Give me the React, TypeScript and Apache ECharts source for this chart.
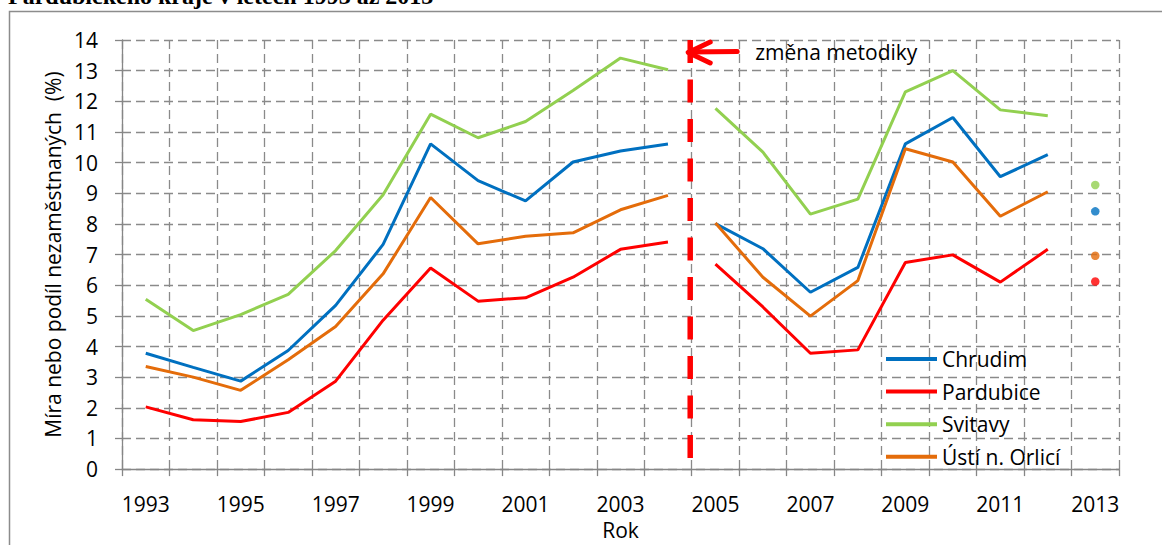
import React, { useEffect, useRef } from "react";
import * as echarts from "echarts";

const years = ["1993", "1994", "1995", "1996", "1997", "1998", "1999", "2000", "2001", "2002", "2003", "2004", "2005", "2006", "2007", "2008", "2009", "2010", "2011", "2012", "2013"];
const chrudim = [3.78, 3.32, 2.87, 3.87, 5.34, 7.33, 10.61, 9.41, 8.75, 10.02, 10.38, 10.61, 8.01, 7.19, 5.77, 6.58, 10.61, 11.47, 9.54, 10.26, 8.41];
const pardubice = [2.03, 1.61, 1.55, 1.85, 2.87, 4.86, 6.56, 5.48, 5.59, 6.26, 7.17, 7.41, 6.69, 5.29, 3.78, 3.89, 6.74, 6.99, 6.1, 7.17, 6.12];
const svitavy = [5.54, 4.52, 5.04, 5.7, 7.13, 8.95, 11.58, 10.81, 11.34, 12.35, 13.41, 13.03, 11.77, 10.34, 8.32, 8.81, 12.31, 13.0, 11.72, 11.53, 9.27];
const usti = [3.35, 3.0, 2.57, 3.57, 4.65, 6.37, 8.86, 7.35, 7.6, 7.71, 8.46, 8.93, 8.03, 6.26, 4.99, 6.15, 10.45, 10.02, 8.25, 9.05, 6.96];

const names = ["Chrudim", "Pardubice", "Svitavy", "Ústí n. Orlicí"];
const colors = ["#0070C0", "#FF0000", "#92D050", "#E46C0A"];
const allValues = [chrudim, pardubice, svitavy, usti];

// segment boundaries: old methodology 1993-2004, new 2005-2012, single point 2013
const seg1End = years.indexOf("2004");
const seg2Start = years.indexOf("2005");
const seg2End = years.indexOf("2012");
const dotIdx = years.indexOf("2013");

const titleText = "Pardubického kraje v letech 1993 až 2013";
const yTitle = "Míra nebo podíl nezaměstnaných  (%)";
const xTitle = "Rok";
const noteText = "změna metodiky";

const FONT = "'Open Sans', 'Noto Sans', sans-serif";
const FS = 21;
const GRID_COLOR = "#8a8a8a";

function mask(vals: number[], from: number, to: number) {
  return vals.map((v, i) => (i >= from && i <= to ? v : null));
}

export default function App() {
  const ref = useRef<HTMLDivElement>(null);
  useEffect(() => {
    document.body.style.margin = "0";
    const chart = echarts.init(ref.current!, undefined, { renderer: "svg" });
    const series: any[] = [];
    names.forEach((n, k) => {
      const common = {
        type: "line",
        name: n,
        symbol: "none",
        showSymbol: false,
        connectNulls: false,
        lineStyle: { color: colors[k], width: 3 },
        itemStyle: { color: colors[k] },
        z: 3,
      };
      series.push({ ...common, data: mask(allValues[k], 0, seg1End) });
      series.push({ ...common, data: mask(allValues[k], seg2Start, seg2End) });
    });
    names.forEach((n, k) => {
      series.push({
        type: "scatter",
        name: n + " 2013",
        data: mask(allValues[k], dotIdx, dotIdx),
        symbol: "circle",
        symbolSize: 8.5,
        itemStyle: { color: colors[k] },
        z: 3,
      });
    });

    const option: any = {
      animation: false,
      textStyle: { fontFamily: FONT },
      grid: { left: 122, top: 40, width: 997, height: 434, containLabel: false },
      legend: {
        data: names,
        orient: "vertical",
        left: 886,
        top: 348,
        padding: 0,
        icon: "rect",
        itemWidth: 51,
        itemHeight: 4,
        itemGap: 10.6,
        textStyle: { fontFamily: FONT, fontSize: FS, color: "#000", lineHeight: 22 },
      },
      xAxis: {
        type: "category",
        data: years,
        boundaryGap: true,
        name: xTitle,
        nameLocation: "middle",
        nameGap: 48,
        nameTextStyle: { fontFamily: FONT, fontSize: FS, color: "#000" },
        axisLine: { lineStyle: { color: "#868686", width: 1.3 } },
        axisTick: { show: true, interval: 0, length: 7, lineStyle: { color: "#868686", width: 1.3 } },
        axisLabel: { interval: 1, margin: 24, fontFamily: FONT, fontSize: FS, color: "#000" },
        splitLine: { show: true, interval: 0, lineStyle: { color: GRID_COLOR, width: 1.3, type: [9, 5] } },
      },
      yAxis: {
        type: "value",
        min: 0,
        max: 14,
        interval: 1,
        axisLine: { show: true, lineStyle: { color: "#868686", width: 1.3 } },
        axisTick: { show: true, length: 7, lineStyle: { color: "#868686", width: 1.3 } },
        axisLabel: { margin: 24, fontFamily: FONT, fontSize: FS, color: "#000" },
        splitLine: { show: true, lineStyle: { color: GRID_COLOR, width: 1.3, type: [9, 5] } },
      },
      series,
    };
    chart.setOption(option);

    const xa = chart.convertToPixel({ xAxisIndex: 0 }, "2004") as number;
    const xb2 = chart.convertToPixel({ xAxisIndex: 0 }, "2005") as number;
    const xb = (xa + xb2) / 2 - 1.5;
    const yTop = chart.convertToPixel({ yAxisIndex: 0 }, 14) as number;
    const yBot = chart.convertToPixel({ yAxisIndex: 0 }, 0) as number;
    const arrowY = 52;

    chart.setOption({
      graphic: [
        {
          type: "rect",
          shape: { x: 9.5, y: 11.5, width: 1200, height: 600 },
          style: { fill: "none", stroke: "#8c8c8c", lineWidth: 1.5 },
          silent: true,
          z: 0,
        },
        {
          type: "text",
          x: 8,
          y: -4,
          style: {
            text: titleText,
            font: "bold 24px 'Liberation Serif', 'Times New Roman', serif",
            fill: "#000",
            align: "left",
            verticalAlign: "middle",
          },
          z: 10,
        },
        {
          type: "line",
          shape: { x1: xb, y1: yTop, x2: xb, y2: yBot + 1 },
          style: { stroke: "#FF0000", lineWidth: 5.5, lineDash: [23, 16.5] },
          z: 5,
        },
        {
          type: "line",
          shape: { x1: xb - 1, y1: arrowY, x2: xb + 47, y2: arrowY - 0.5 },
          style: { stroke: "#FF0000", lineWidth: 5, lineCap: "round" },
          z: 6,
        },
        {
          type: "polyline",
          shape: { points: [[xb + 20, arrowY - 10], [xb - 2, arrowY + 0.5], [xb + 20, arrowY + 11]] },
          style: { stroke: "#FF0000", lineWidth: 5, lineCap: "round", lineJoin: "round", fill: "none" },
          z: 6,
        },
        {
          type: "text",
          x: xb + 65,
          y: arrowY,
          style: {
            text: noteText,
            font: `${FS}px ${FONT}`,
            fill: "#000",
            align: "left",
            verticalAlign: "middle",
          },
          z: 6,
        },
        {
          type: "text",
          x: 53,
          y: (yTop + yBot) / 2,
          rotation: Math.PI / 2,
          style: {
            text: yTitle,
            font: `${FS}px ${FONT}`,
            fill: "#000",
            align: "center",
            verticalAlign: "middle",
          },
          z: 6,
        },
      ],
    });

    return () => chart.dispose();
  }, []);
  return <div ref={ref} style={{ position: "absolute", left: 0, top: 0, width: 1162, height: 545 }} />;
}
